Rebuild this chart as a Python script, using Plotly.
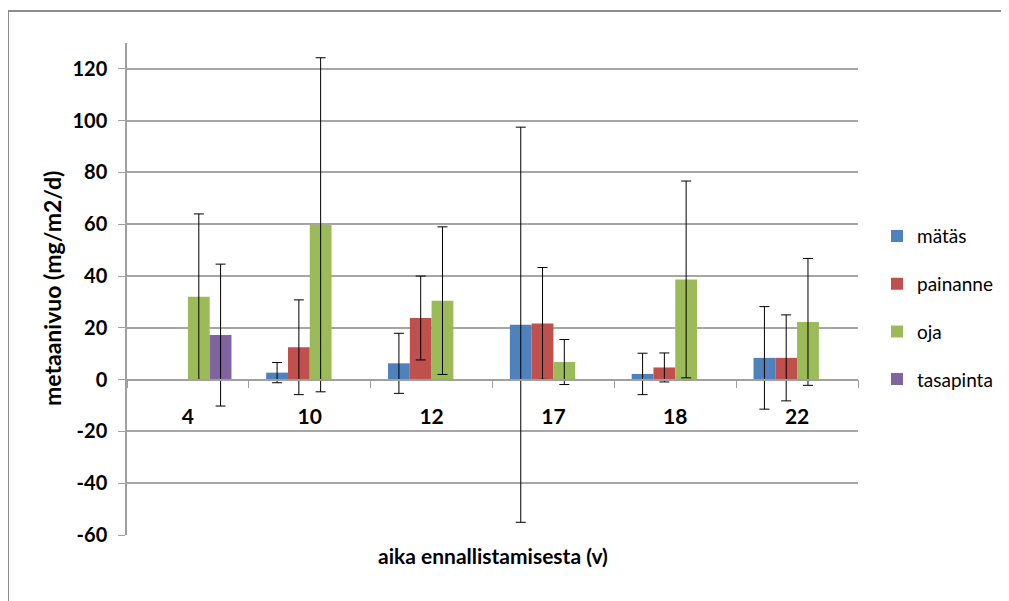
import plotly.graph_objects as go

categories = ["4", "10", "12", "17", "18", "22"]
series_names = ["mätäs", "painanne", "oja", "tasapinta"]
matas = [None, 2.7, 6.3, 21.2, 2.2, 8.4]
matas_err = [None, 3.9, 11.6, 76.3, 8.0, 19.8]
painanne = [None, 12.5, 23.8, 21.7, 4.7, 8.4]
painanne_err = [None, 18.3, 16.2, 21.6, 5.6, 16.6]
oja = [32.0, 59.8, 30.5, 6.8, 38.7, 22.3]
oja_err = [32.0, 64.5, 28.5, 8.7, 38.0, 24.5]
tasapinta = [17.2, None, None, None, None, None]
tasapinta_err = [27.4, None, None, None, None, None]
colors = ["#4F81BD", "#C0504D", "#9BBB59", "#8064A2"]
y_ticks = [-60, -40, -20, 0, 20, 40, 60, 80, 100, 120]
y_ticktext = ["-60", "-40", "-20", "0", "20", "40", "60", "80", "100", "120"]

values = [matas, painanne, oja, tasapinta]
errors = [matas_err, painanne_err, oja_err, tasapinta_err]

FONT = "Lato"
fig = go.Figure()
for name, vals, errs, col in zip(series_names, values, errors, colors):
    fig.add_trace(go.Bar(
        x=categories, y=vals, name=name, marker=dict(color=col, line=dict(width=0)),
        legendgroup=name,
        error_y=dict(type="data", array=errs, symmetric=True, visible=True,
                     color="#000000", thickness=1, width=5),
    ))

ymin, ymax = -60, 130
zero_pos = (0 - ymin) / (ymax - ymin)

# page body has an 8px default margin, so the figure is drawn 8px smaller
W, H = 1001, 593
L, T, R, B = 119, 35, 151, 66
pw, ph = W - L - R, H - T - B

fig.update_layout(
    width=W, height=H,
    margin=dict(l=L, r=R, t=T, b=B, autoexpand=False),
    paper_bgcolor="white", plot_bgcolor="white",
    barmode="group", bargap=0.285, bargroupgap=0,
    font=dict(family=FONT, color="#000000"),
    showlegend=True,
    legend=dict(x=1.026, y=0.646, xanchor="left", yanchor="top",
                font=dict(family=FONT, size=19, color="#000000"),
                traceorder="grouped", tracegroupgap=20,
                itemwidth=30, bgcolor="rgba(0,0,0,0)"),
    xaxis=dict(
        type="category", anchor="free", position=zero_pos,
        showline=True, linecolor="#A0A0A0", linewidth=1.5,
        ticks="outside", tickson="boundaries", ticklen=8, tickcolor="#A0A0A0",
        tickfont=dict(family=FONT, size=21, color="#000000", weight="bold"),
        ticklabelstandoff=18,
        showgrid=False, zeroline=False,
    ),
    yaxis=dict(
        range=[ymin, ymax], tickvals=y_ticks, ticktext=y_ticktext,
        showline=True, linecolor="#A0A0A0", linewidth=1.5,
        ticks="outside", ticklen=7, tickcolor="#A0A0A0",
        tickfont=dict(family=FONT, size=20, color="#000000", weight="bold"),
        ticklabelstandoff=7,
        showgrid=True, gridcolor="#A6A6A6", gridwidth=1.5,
        zeroline=False,
    ),
    annotations=[
        dict(text="aika ennallistamisesta (v)", xref="paper", yref="paper",
             x=0.5, y=-0.012, xanchor="center", yanchor="top", showarrow=False,
             font=dict(family=FONT, size=21, color="#000000", weight="bold")),
        dict(text="metaanivuo (mg/m2/d)", xref="paper", yref="paper",
             x=(44 - L) / pw, y=0.5, xanchor="center", yanchor="middle",
             textangle=-90, showarrow=False,
             font=dict(family=FONT, size=23, color="#000000", weight="bold")),
    ],
    shapes=[dict(
        type="rect", xref="paper", yref="paper",
        x0=(0 - L) / pw, x1=1.4, y0=-0.3, y1=(ph + T - 3) / ph,
        line=dict(color="#8C8C8C", width=2), layer="below",
    )],
)

fig.write_html("out.html")
